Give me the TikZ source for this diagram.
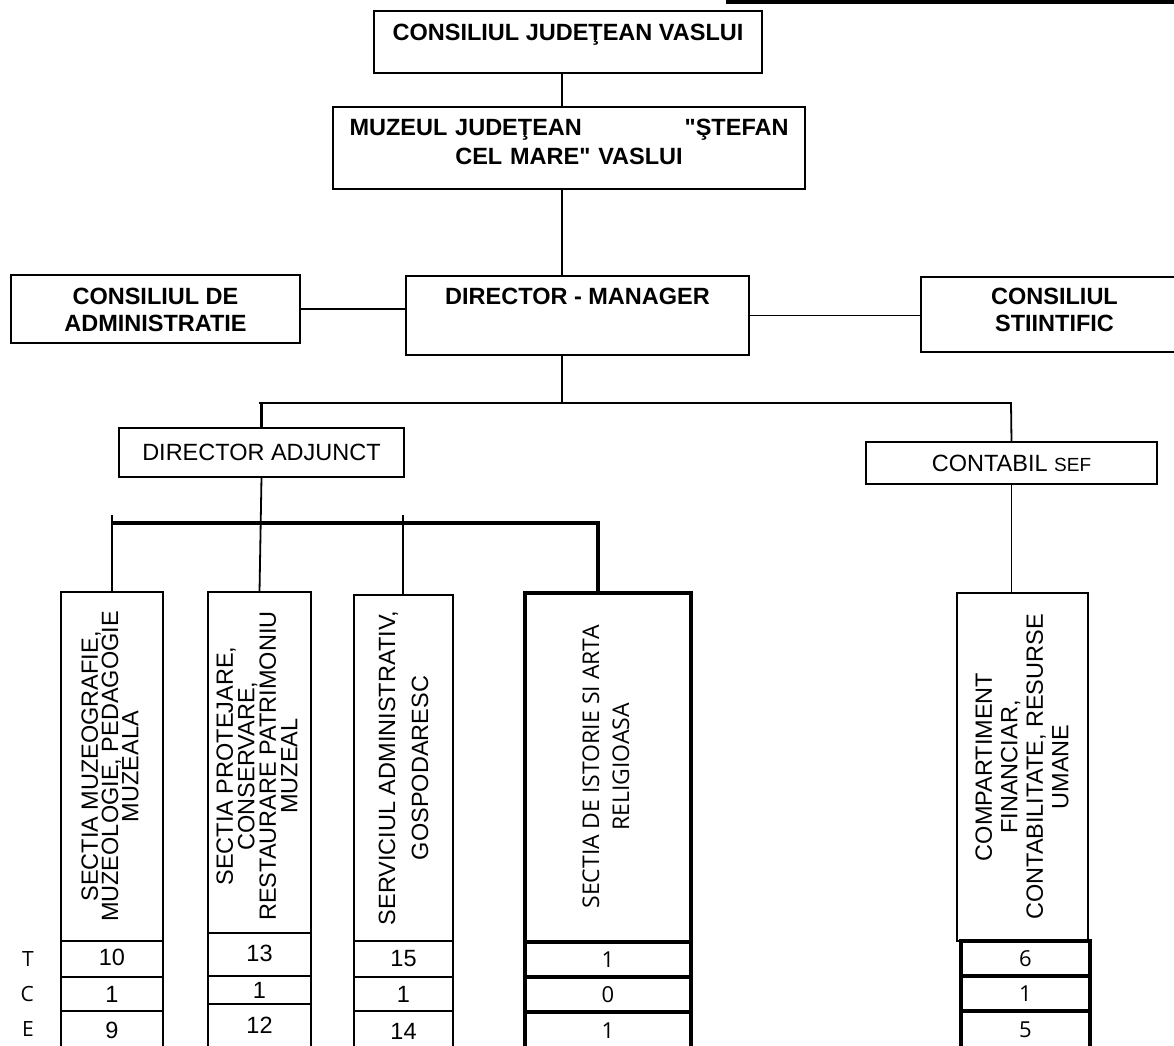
\documentclass[tikz,border=0pt]{standalone}
\usepackage{fontspec}
\setmainfont{Liberation Sans}[Ligatures=TeXOff]
\newfontfamily\opensans{Open Sans}
\usetikzlibrary{positioning}
\newcommand{\OrgSize}{23.5}
\tikzset{
	orgbox/.style={draw, line width=1.8pt, inner sep=0pt, outer sep=0pt},
	orgboxthick/.style={orgbox, line width=3.5pt},
	orglink/.style={line width=1.8pt},
	orglinkthick/.style={line width=3.5pt},
	headtext/.style={inner sep=0pt, align=center, font=\fontsize{\OrgSize}{27}\selectfont\bfseries},
	bodytext/.style={inner sep=0pt, align=center, font=\fontsize{\OrgSize}{25}\selectfont},
	sidetext/.style={inner sep=0pt, align=center, rotate=90},
	cellbox/.style={orgbox, font=\fontsize{\OrgSize}{25}\selectfont},
	cellboxthick/.style={orgboxthick, font=\opensans\fontsize{22}{24}\selectfont},
	rowlabel/.style={inner sep=0pt, font=\opensans\fontsize{21}{24}\selectfont},
}
\begin{document}
\begin{tikzpicture}[x=1pt, y=-1pt]
	\useasboundingbox (0,0) rectangle (1174,1045);
	\fill (726,0) rectangle (1174,4);
	\coordinate (spine) at (562,0);
	\node[orgbox, minimum width=388pt, minimum height=62pt] (cjv) at (568,42) {};
	\node[headtext, below=13pt of cjv.north] (cjvt) {CONSILIUL JUDEŢEAN VASLUI};
	\node[orgbox, minimum width=472pt, minimum height=82pt] (muz) at (569,148) {};
	\node[headtext, text width=439pt, font=\fontsize{\OrgSize}{29}\selectfont\bfseries, below=12pt of muz.north] (muzt) {MUZEUL JUDEŢEAN\hfill"ŞTEFAN\\CEL MARE" VASLUI};
	\node[orgbox, minimum width=343pt, minimum height=79pt] (dm) at (577.5,315.5) {};
	\node[headtext, below=12pt of dm.north] (dmt) {DIRECTOR - MANAGER};
	\node[orgbox, minimum width=289pt, minimum height=68pt] (cda) at (155.5,309) {};
	\node[headtext, below=13pt of cda.north] (cdat) {CONSILIUL DE\\ADMINISTRATIE};
	\node[orgbox, minimum width=259pt, minimum height=75pt] (cs) at (1050.5,314.5) {};
	\node[headtext, below=11pt of cs.north, xshift=4pt] (cst) {CONSILIUL\\STIINTIFIC};
	\node[orgbox, bodytext, minimum width=285pt, minimum height=49pt] (da) at (261.5,452.5) {DIRECTOR ADJUNCT};
	\node[orgbox, bodytext, minimum width=291pt, minimum height=42pt] (ksef) at (1011.5,463) {CONTABIL {\fontsize{19}{20}\selectfont SEF}};

	\node[orgbox, minimum width=102pt, minimum height=349pt] (c1) at (112,766.5) {};
	\node[sidetext, font=\fontsize{\OrgSize}{19}\selectfont] (c1t) at (110,766.5) {SECTIA MUZEOGRAFIE,\\MUZEOLOGIE, PEDAGOGIE\\MUZEALA};
	\node[orgbox, minimum width=103pt, minimum height=341pt] (c2) at (259.5,762.5) {};
	\node[sidetext, font=\fontsize{\OrgSize}{21.5}\selectfont] (c2t) at (257,766) {SECTIA PROTEJARE,\\CONSERVARE,\\RESTAURARE PATRIMONIU\\MUZEAL};
	\node[orgbox, minimum width=99pt, minimum height=346pt] (c3) at (403.5,768) {};
	\node[sidetext, font=\fontsize{\OrgSize}{33}\selectfont] (c3t) at (403.5,768) {SERVICIUL ADMINISTRATIV,\\GOSPODARESC};
	\node[orgboxthick, minimum width=166pt, minimum height=349pt] (c4) at (608,767.5) {};
	\node[sidetext, font=\opensans\fontsize{23}{30}\selectfont] (c4t) at (606,767) {SECTIA DE ISTORIE SI ARTA\\RELIGIOASA};
	\node[orgbox, minimum width=131pt, minimum height=348pt] (k) at (1022.5,767) {};
	\node[sidetext, font=\fontsize{\OrgSize}{25.5}\selectfont] (kt) at (1022,767) {COMPARTIMENT\\FINANCIAR,\\CONTABILITATE, RESURSE\\UMANE};

	\node[cellbox, minimum width=102pt, minimum height=36pt, below=0pt of c1] (c1a) {\raisebox{3pt}{10}};
	\node[cellbox, minimum width=102pt, minimum height=34pt, below=0pt of c1a] (c1b) {\raisebox{-2pt}{1}};
	\node[cellbox, minimum width=102pt, minimum height=40pt, below=0pt of c1b] (c1c) {\raisebox{1pt}{9}};
	\node[cellbox, minimum width=103pt, minimum height=43pt, below=0pt of c2] (c2a) {\raisebox{2pt}{13}};
	\node[cellbox, minimum width=103pt, minimum height=28pt, below=0pt of c2a] (c2b) {\raisebox{-4pt}{1}};
	\node[cellbox, minimum width=103pt, minimum height=46pt, below=0pt of c2b] (c2c) {\raisebox{4pt}{12}};
	\node[cellbox, minimum width=99pt, minimum height=36pt, below=0pt of c3] (c3a) {\raisebox{-3pt}{15}};
	\node[cellbox, minimum width=99pt, minimum height=34pt, below=0pt of c3a] (c3b) {\raisebox{-2pt}{1}};
	\node[cellbox, minimum width=99pt, minimum height=40pt, below=0pt of c3b] (c3c) {14};
	\node[cellboxthick, minimum width=166pt, minimum height=35pt, below=0pt of c4] (c4a) {1};
	\node[cellboxthick, minimum width=166pt, minimum height=35pt, below=0pt of c4a] (c4b) {0};
	\node[cellboxthick, minimum width=166pt, minimum height=40pt, below=0pt of c4b] (c4c) {\raisebox{3pt}{1}};
	\node[cellboxthick, minimum width=129pt, minimum height=35pt, below=0pt of k, xshift=3pt] (ka) {6};
	\node[cellboxthick, minimum width=129pt, minimum height=35pt, below=0pt of ka] (kb) {1};
	\node[cellboxthick, minimum width=129pt, minimum height=40pt, below=0pt of kb] (kc) {\raisebox{3pt}{5}};
	\node[rowlabel, left=27pt of c1a] (lt) {T};
	\node[rowlabel, left=27pt of c1b] (lc) {C};
	\node[rowlabel, left=27pt of c1c, yshift=2pt] (le) {E};

	\draw[orglink] (cjv.south -| spine) -- (muz.north -| spine);
	\draw[orglink] (muz.south -| spine) -- (dm.north -| spine);
	\draw[orglink] (cda.east) -- (cda.east -| dm.west);
	\draw[orglink] (dm.east) -- (dm.east -| cs.west);
	\coordinate (b1w) at (259,403);
	\coordinate (b1e) at (1011,403);
	\draw[orglink] (dm.south -| spine) -- (b1w -| spine);
	\draw[orglink] (b1w) -- (b1e) -- (ksef.north);
	\draw[orglinkthick] (da.north) -- (da.north |- b1w);
	\draw[orglink] (ksef.south) -- (ksef.south |- k.north);
	\draw[orglink] (da.south) -- (c2.north);
	\coordinate (b2w) at (112,523);
	\coordinate (b2e) at (598,523);
	\coordinate (t1) at (112,515);
	\coordinate (t3) at (403,515);
	\draw[orglinkthick] (b2w) -- (b2e) -- (b2e |- c4.north);
	\draw[orglink] (t1) -- (t1 |- c1.north);
	\draw[orglink] (t3) -- (t3 |- c3.north);
\end{tikzpicture}
\end{document}
